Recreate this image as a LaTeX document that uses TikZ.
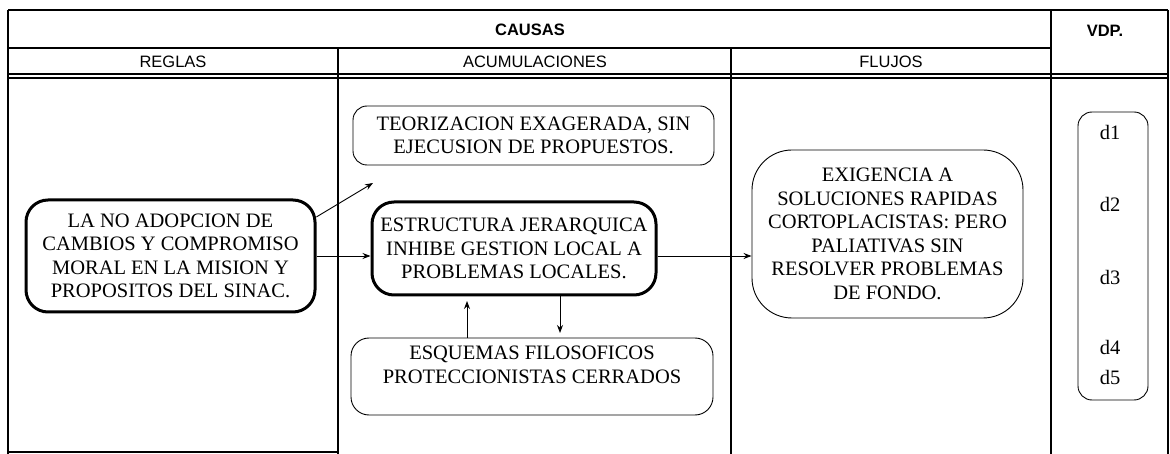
\documentclass[tikz,border=0pt]{standalone}
\usepackage{fontspec}
\setmainfont{Liberation Serif}
\newfontfamily\encab{Liberation Sans}
\usetikzlibrary{arrows.meta}

\begin{document}
\begin{tikzpicture}[x=1pt,y=-1pt,
  every node/.style={font=\fontsize{20.5}{23.5}\selectfont,align=center,inner sep=0pt},
  titulo/.style={font=\encab\fontsize{16.5}{18}\selectfont},
  titulobf/.style={font=\encab\bfseries\fontsize{16.5}{18}\selectfont},
  caja/.style={draw,line width=3pt,rounded corners=22pt},
  cajafina/.style={draw,line width=0.9pt},
  flecha/.style={-{Stealth[length=8pt,width=6pt]},line width=0.9pt}]
\useasboundingbox (0,0) rectangle (1170,454);
\draw[line width=2.5pt] (8,10) -- (1168,10);
\draw[line width=1.8pt] (8,48) -- (1051,48);
\draw[line width=1.2pt] (8,74) -- (1168,74) (8,78) -- (1168,78);
\draw[line width=1.8pt] (8,452) -- (338,452);
\foreach \x in {8,1051,1168} \draw[line width=1.8pt] (\x,10) -- (\x,454);
\foreach \x in {338,731} \draw[line width=1.8pt] (\x,48) -- (\x,454);
\node[titulobf] (causas) at (530,30) {CAUSAS};
\node[titulobf] (vdp) at (1105,31) {VDP.};
\node[titulo] (reglas) at (173,62) {REGLAS};
\node[titulo] (acumul) at (535,62) {ACUMULACIONES};
\node[titulo] (flujos) at (891,62) {FLUJOS};
\node[caja,minimum width=289pt,minimum height=112pt] (regla) at (170.5,256)
  {LA NO ADOPCION DE\\CAMBIOS Y COMPROMISO\\MORAL EN LA MISION Y\\PROPOSITOS DEL SINAC.};
\node[cajafina,rounded corners=14pt,minimum width=361pt,minimum height=59pt] (teoriz) at (533.5,135.5)
  {TEORIZACION EXAGERADA, SIN\\EJECUSION DE PROPUESTOS.};
\node[caja,minimum width=284pt,minimum height=93pt] (estruct) at (514,248.5)
  {ESTRUCTURA JERARQUICA\\INHIBE GESTION LOCAL A\\PROBLEMAS LOCALES.};
\node[cajafina,rounded corners=18pt,minimum width=362pt,minimum height=77pt] (esquemas) at (532,376.5)
  {ESQUEMAS FILOSOFICOS\\PROTECCIONISTAS CERRADOS\\~};
\node[cajafina,rounded corners=40pt,minimum width=271pt,minimum height=168pt] (exig) at (887.5,234)
  {EXIGENCIA A\\SOLUCIONES RAPIDAS\\CORTOPLACISTAS: PERO\\PALIATIVAS SIN\\RESOLVER PROBLEMAS\\DE FONDO.};
\node[cajafina,rounded corners=14pt,minimum width=70pt,minimum height=288pt] (vdpcaja) at (1113,256) {};
\foreach \n/\y in {1/132,2/204,3/277,4/347,5/377}
  \node (d\n) at (1110,\y) {d\n};
\coordinate (libre) at (373,183);
\coordinate (subida) at (467,301);
\coordinate (bajada) at (560,333);
\draw[flecha] (regla.15) -- (libre);
\draw[flecha] (regla.east) -- (regla.east -| estruct.west);
\draw[flecha] (regla.east -| estruct.east) -- (regla.east -| exig.west);
\draw[flecha] (subida |- esquemas.north) -- (subida);
\draw[flecha] (bajada |- estruct.south) -- (bajada);
\end{tikzpicture}
\end{document}
